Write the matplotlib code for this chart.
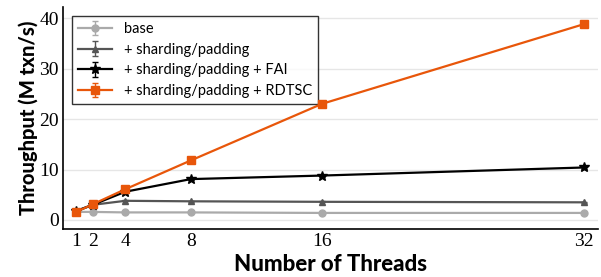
import numpy as np
import matplotlib
matplotlib.use('Agg')
import matplotlib.pyplot as plt

plt.rcParams['font.family'] = ['Lato', 'DejaVu Sans']

threads = [1, 2, 4, 8, 16, 32]
labels = ['base', '+ sharding/padding', '+ sharding/padding + FAI', '+ sharding/padding + RDTSC']
base = [1.6, 1.6, 1.5, 1.5, 1.4, 1.4]
sharding = [1.7, 3.0, 3.8, 3.7, 3.6, 3.5]
fai = [1.8, 3.0, 5.6, 8.1, 8.8, 10.4]
rdtsc = [1.6, 3.1, 6.1, 11.8, 23.0, 38.8]
errs = [
    [0.1, 0.1, 0.1, 0.1, 0.1, 0.1],
    [0.1, 0.1, 0.1, 0.1, 0.1, 0.1],
    [0.2, 0.2, 0.2, 0.2, 0.2, 0.3],
    [0.1, 0.1, 0.2, 0.2, 0.3, 0.6],
]
colors = ['#aaaaaa', '#555555', '#000000', '#e8560a']
markers = ['o', '^', '*', 's']
sizes = [5, 5, 7, 5.5]

fig = plt.figure(figsize=(6.01, 2.77), dpi=100)
ax = fig.add_axes([0.105, 0.173, 0.89, 0.802])

for i, ys in enumerate([base, sharding, fai, rdtsc]):
    ax.errorbar(threads, ys, yerr=errs[i], color=colors[i], marker=markers[i],
                markersize=sizes[i], linewidth=1.6, capsize=2, elinewidth=1,
                label=labels[i], zorder=3 + i)

ax.set_xlim(0.2, 32.85)
ax.set_ylim(-1.8, 42.2)
ax.set_xticks(threads)
ax.set_yticks([0, 10, 20, 30, 40])
ax.tick_params(axis='both', labelsize=14, length=0, pad=3)
for lab in ax.get_xticklabels() + ax.get_yticklabels():
    lab.set_family(['Liberation Serif', 'DejaVu Serif'])
ax.grid(axis='y', color='#e6e6e6', linewidth=1)
ax.set_axisbelow(True)
for s in ['top', 'right']:
    ax.spines[s].set_visible(False)
for s in ['left', 'bottom']:
    ax.spines[s].set_linewidth(1.2)

ax.set_xlabel('Number of Threads', fontsize=16, fontweight='black', labelpad=3)
ax.set_ylabel('Throughput (M txn/s)', fontsize=14.5, fontweight='black', labelpad=1)

leg = ax.legend(loc='upper left', fontsize=10.5, frameon=True, fancybox=False,
                edgecolor='black', borderaxespad=0.6, handlelength=2.3,
                labelspacing=0.45, borderpad=0.45)
leg.get_frame().set_linewidth(1)

fig.savefig('out.png', dpi=100)
